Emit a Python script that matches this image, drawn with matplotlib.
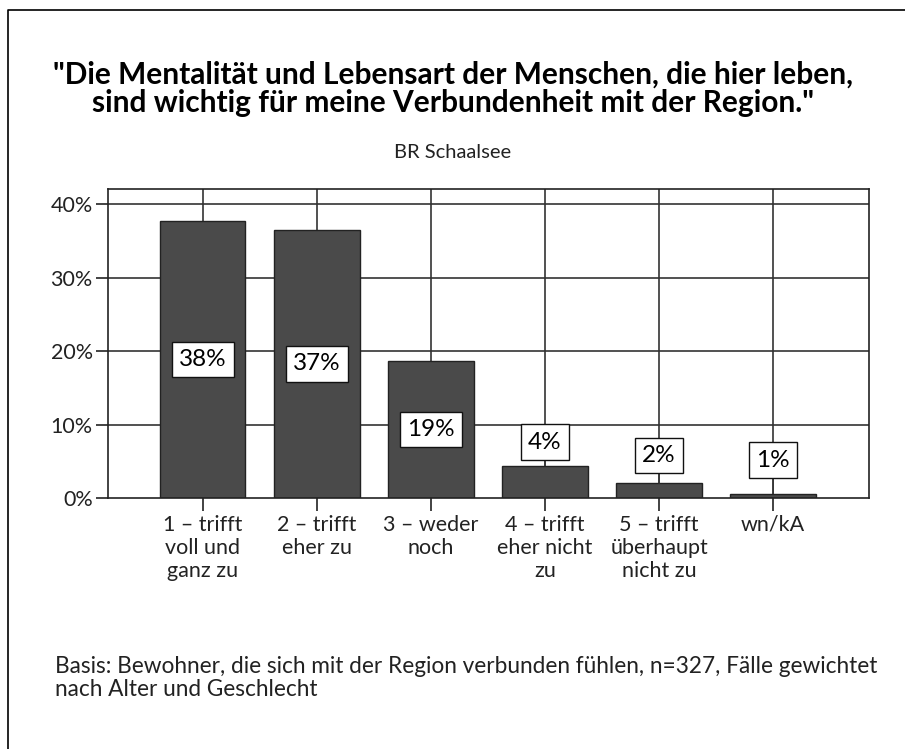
import matplotlib.pyplot as plt
from matplotlib.lines import Line2D

plt.rcParams["font.family"] = ["Lato", "DejaVu Sans"]

title = '"Die Mentalität und Lebensart der Menschen, die hier leben,\nsind wichtig für meine Verbundenheit mit der Region."'
subtitle = "BR Schaalsee"
footer = ("Basis: Bewohner, die sich mit der Region verbunden fühlen, n=327, Fälle gewichtet\n"
          "nach Alter und Geschlecht")

categories = [
    "1 – trifft\nvoll und\nganz zu",
    "2 – trifft\neher zu",
    "3 – weder\nnoch",
    "4 – trifft\neher nicht\nzu",
    "5 – trifft\nüberhaupt\nnicht zu",
    "wn/kA",
]
values = [37.7, 36.5, 18.6, 4.4, 2.0, 0.6]
labels = ["38%", "37%", "19%", "4%", "2%", "1%"]
yticks = [0, 10, 20, 30, 40]

W, H = 905, 749
fig = plt.figure(figsize=(W / 100, H / 100), dpi=100)
ax = fig.add_axes([108 / W, 1 - 498 / H, (869 - 108) / W, (498 - 189) / H])

x = list(range(len(categories)))
ax.set_xlim(-0.83, len(categories) - 1 + 0.84)
ax.set_ylim(0, 42.05)

# grid behind the bars
for xi in x:
    ax.axvline(xi, color="#333333", lw=1.2, zorder=1)
for yv in yticks[1:]:
    ax.axhline(yv, color="#333333", lw=1.2, zorder=1)

ax.bar(x, values, width=0.75, color="#4a4a4a", edgecolor="#222222", lw=1.0, zorder=2)

box = dict(boxstyle="square,pad=0.3", fc="white", ec="#111111", lw=1.0)
for i, (v, lab) in enumerate(zip(values, labels)):
    if v > 10:
        ax.text(i, v / 2, lab, ha="center", va="center", fontsize=17.5,
                bbox=box, zorder=4)
    else:
        off = {3: 17, 4: 20, 5: 24}[i]
        ax.annotate(lab, xy=(i, v), xytext=(0, off), textcoords="offset points",
                    ha="center", va="center", fontsize=17.5, bbox=box, zorder=4,
                    arrowprops=dict(arrowstyle="-", color="#333333", lw=1.0,
                                    shrinkA=0, shrinkB=0))

ax.set_yticks(yticks)
ax.set_yticklabels([f"{t}%" for t in yticks])
ax.set_xticks(x)
ax.set_xticklabels(categories, linespacing=1.2)
ax.tick_params(axis="both", length=9, width=1.2, color="#222222",
               labelsize=15.5, labelcolor="#222222")
ax.tick_params(axis="y", pad=2)
ax.tick_params(axis="x", pad=3)
for s in ax.spines.values():
    s.set_color("#222222")
    s.set_linewidth(1.2)

fig.text(0.5, 1 - 89 / H, title, ha="center", va="center", fontsize=21.5,
         fontweight="bold", linespacing=1.0)
fig.text(0.5, 1 - 153 / H, subtitle, ha="center", va="center", fontsize=14.5,
         color="#222222")
fig.text(55 / W, 1 - 678 / H, footer, ha="left", va="center", fontsize=16.3,
         color="#222222", linespacing=1.1)

# outer frame (left and top only)
fig.add_artist(Line2D([8 / W, 8 / W, 1], [0, 1 - 10 / H, 1 - 10 / H],
                      transform=fig.transFigure, color="black", lw=1.2))

fig.savefig("out.png", dpi=100)
